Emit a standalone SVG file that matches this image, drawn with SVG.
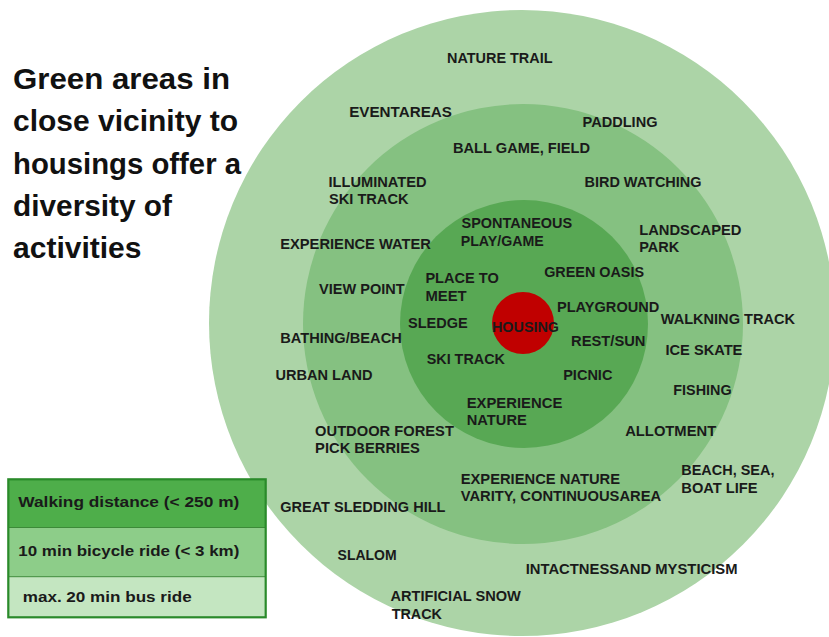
<svg xmlns="http://www.w3.org/2000/svg" width="829" height="637" viewBox="0 0 829 637">
<style>
.lb{font-family:"Liberation Sans",Arial,sans-serif;font-weight:bold;font-size:15px;fill:#1a1a1a}
.ti{font-family:"Liberation Sans",Arial,sans-serif;font-weight:bold;font-size:30px;fill:#111}
.lg{font-family:"Liberation Sans",Arial,sans-serif;font-weight:bold;font-size:15px;fill:#1a1a1a}
</style>
<rect width="829" height="637" fill="#ffffff"/>
<g id="zone-outer"><circle cx="522" cy="323" r="313" fill="#acd4a7"/></g>
<g id="zone-middle"><circle cx="523" cy="324" r="220" fill="#85c181"/></g>
<g id="zone-inner"><circle cx="524" cy="324" r="124" fill="#58a854"/></g>
<g id="housing"><circle cx="523" cy="323" r="31" fill="#c00000"/>
<text class="lb" x="492" y="331.5" textLength="67" lengthAdjust="spacingAndGlyphs" fill="#2a0000">HOUSING</text></g>
<g id="connectors"></g>
<g id="title">
<text class="ti" x="13" y="88.5" textLength="217" lengthAdjust="spacingAndGlyphs">Green areas in</text>
<text class="ti" x="13" y="131" textLength="225" lengthAdjust="spacingAndGlyphs">close vicinity to</text>
<text class="ti" x="13" y="173.5" textLength="228" lengthAdjust="spacingAndGlyphs">housings offer a</text>
<text class="ti" x="13" y="215.5" textLength="159" lengthAdjust="spacingAndGlyphs">diversity of</text>
<text class="ti" x="13" y="258" textLength="128.5" lengthAdjust="spacingAndGlyphs">activities</text>
</g>
<g id="labels">
<g id="l-nature-trail"><text class="lb" x="447" y="62.7" textLength="105.5" lengthAdjust="spacingAndGlyphs">NATURE TRAIL</text></g>
<g id="l-eventareas"><text class="lb" x="349.2" y="117.3" textLength="102.7" lengthAdjust="spacingAndGlyphs">EVENTAREAS</text></g>
<g id="l-paddling"><text class="lb" x="582.5" y="126.7" textLength="75" lengthAdjust="spacingAndGlyphs">PADDLING</text></g>
<g id="l-ball-game"><text class="lb" x="453" y="152.7" textLength="137" lengthAdjust="spacingAndGlyphs">BALL GAME, FIELD</text></g>
<g id="l-illuminated"><text class="lb" x="328.5" y="186.7" textLength="98" lengthAdjust="spacingAndGlyphs">ILLUMINATED</text>
<text class="lb" x="329" y="203.5" textLength="79.5" lengthAdjust="spacingAndGlyphs">SKI TRACK</text></g>
<g id="l-bird"><text class="lb" x="584.5" y="186.7" textLength="117" lengthAdjust="spacingAndGlyphs">BIRD WATCHING</text></g>
<g id="l-spontaneous"><text class="lb" x="461.5" y="228.3" textLength="110.7" lengthAdjust="spacingAndGlyphs">SPONTANEOUS</text>
<text class="lb" x="460.7" y="246" textLength="83" lengthAdjust="spacingAndGlyphs">PLAY/GAME</text></g>
<g id="l-exp-water"><text class="lb" x="280.2" y="249" textLength="150.8" lengthAdjust="spacingAndGlyphs">EXPERIENCE WATER</text></g>
<g id="l-landscaped"><text class="lb" x="639.2" y="235" textLength="102.3" lengthAdjust="spacingAndGlyphs">LANDSCAPED</text>
<text class="lb" x="639.2" y="252.3" textLength="40" lengthAdjust="spacingAndGlyphs">PARK</text></g>
<g id="l-green-oasis"><text class="lb" x="544.2" y="277.3" textLength="99.8" lengthAdjust="spacingAndGlyphs">GREEN OASIS</text></g>
<g id="l-place"><text class="lb" x="425.4" y="283.3" textLength="73.4" lengthAdjust="spacingAndGlyphs">PLACE TO</text>
<text class="lb" x="425.4" y="300.7" textLength="41.3" lengthAdjust="spacingAndGlyphs">MEET</text></g>
<g id="l-view"><text class="lb" x="319.1" y="294" textLength="85.5" lengthAdjust="spacingAndGlyphs">VIEW POINT</text></g>
<g id="l-playground"><text class="lb" x="557" y="312.3" textLength="102.3" lengthAdjust="spacingAndGlyphs">PLAYGROUND</text></g>
<g id="l-walkning"><text class="lb" x="660.7" y="324.3" textLength="134.3" lengthAdjust="spacingAndGlyphs">WALKNING TRACK</text></g>
<g id="l-sledge"><text class="lb" x="408" y="328.3" textLength="59.7" lengthAdjust="spacingAndGlyphs">SLEDGE</text></g>
<g id="l-bathing"><text class="lb" x="280.2" y="343" textLength="121.6" lengthAdjust="spacingAndGlyphs">BATHING/BEACH</text></g>
<g id="l-rest"><text class="lb" x="571" y="346" textLength="74.5" lengthAdjust="spacingAndGlyphs">REST/SUN</text></g>
<g id="l-ice"><text class="lb" x="665.5" y="354.8" textLength="76.8" lengthAdjust="spacingAndGlyphs">ICE SKATE</text></g>
<g id="l-ski"><text class="lb" x="426.7" y="363.5" textLength="78.2" lengthAdjust="spacingAndGlyphs">SKI TRACK</text></g>
<g id="l-urban"><text class="lb" x="275.4" y="380.3" textLength="97.1" lengthAdjust="spacingAndGlyphs">URBAN LAND</text></g>
<g id="l-picnic"><text class="lb" x="563.2" y="380.2" textLength="49.2" lengthAdjust="spacingAndGlyphs">PICNIC</text></g>
<g id="l-fishing"><text class="lb" x="673.3" y="394.8" textLength="58.3" lengthAdjust="spacingAndGlyphs">FISHING</text></g>
<g id="l-exp-nature"><text class="lb" x="466.7" y="407.5" textLength="95.6" lengthAdjust="spacingAndGlyphs">EXPERIENCE</text>
<text class="lb" x="466.7" y="424.5" textLength="60.1" lengthAdjust="spacingAndGlyphs">NATURE</text></g>
<g id="l-outdoor"><text class="lb" x="315.1" y="436" textLength="138.8" lengthAdjust="spacingAndGlyphs">OUTDOOR FOREST</text>
<text class="lb" x="315.1" y="453" textLength="104.7" lengthAdjust="spacingAndGlyphs">PICK BERRIES</text></g>
<g id="l-allotment"><text class="lb" x="625.2" y="436" textLength="91" lengthAdjust="spacingAndGlyphs">ALLOTMENT</text></g>
<g id="l-exp-variety"><text class="lb" x="460.7" y="484.3" textLength="159.3" lengthAdjust="spacingAndGlyphs">EXPERIENCE NATURE</text>
<text class="lb" x="460.7" y="501.3" textLength="200.6" lengthAdjust="spacingAndGlyphs">VARITY, CONTINUOUSAREA</text></g>
<g id="l-beach-sea"><text class="lb" x="681.3" y="475.3" textLength="93.1" lengthAdjust="spacingAndGlyphs">BEACH, SEA,</text>
<text class="lb" x="681.3" y="492.7" textLength="76.3" lengthAdjust="spacingAndGlyphs">BOAT LIFE</text></g>
<g id="l-great-sledding"><text class="lb" x="280.2" y="512" textLength="165.3" lengthAdjust="spacingAndGlyphs">GREAT SLEDDING HILL</text></g>
<g id="l-slalom"><text class="lb" x="337.6" y="560.3" textLength="59" lengthAdjust="spacingAndGlyphs">SLALOM</text></g>
<g id="l-intactness"><text class="lb" x="525.7" y="573.7" textLength="211.8" lengthAdjust="spacingAndGlyphs">INTACTNESSAND MYSTICISM</text></g>
<g id="l-artificial"><text class="lb" x="390.5" y="601.3" textLength="130.4" lengthAdjust="spacingAndGlyphs">ARTIFICIAL SNOW</text>
<text class="lb" x="391.7" y="618.7" textLength="50.2" lengthAdjust="spacingAndGlyphs">TRACK</text></g>
</g>
<g id="legend">
<rect x="8.3" y="479.3" width="257.4" height="48.5" fill="#4eae4a"/>
<rect x="8.3" y="527.8" width="257.4" height="48.9" fill="#8dcd89"/>
<rect x="8.3" y="576.7" width="257.4" height="40.6" fill="#c4e6c1"/>
<line x1="8.3" y1="527.5" x2="265.7" y2="527.5" stroke="#3c8a38" stroke-width="1"/>
<line x1="8.3" y1="576.7" x2="265.7" y2="576.7" stroke="#3c8a38" stroke-width="1"/>
<rect x="8.3" y="479.3" width="257.4" height="138" fill="none" stroke="#2a8a2a" stroke-width="2.2"/>
<text class="lg" x="18.3" y="506.7" textLength="221" lengthAdjust="spacingAndGlyphs">Walking distance  (&lt; 250 m)</text>
<text class="lg" x="18.3" y="556" textLength="221" lengthAdjust="spacingAndGlyphs">10 min bicycle ride (&lt; 3 km)</text>
<text class="lg" x="22.7" y="602.3" textLength="169" lengthAdjust="spacingAndGlyphs">max. 20 min bus ride</text>
</g>
</svg>
